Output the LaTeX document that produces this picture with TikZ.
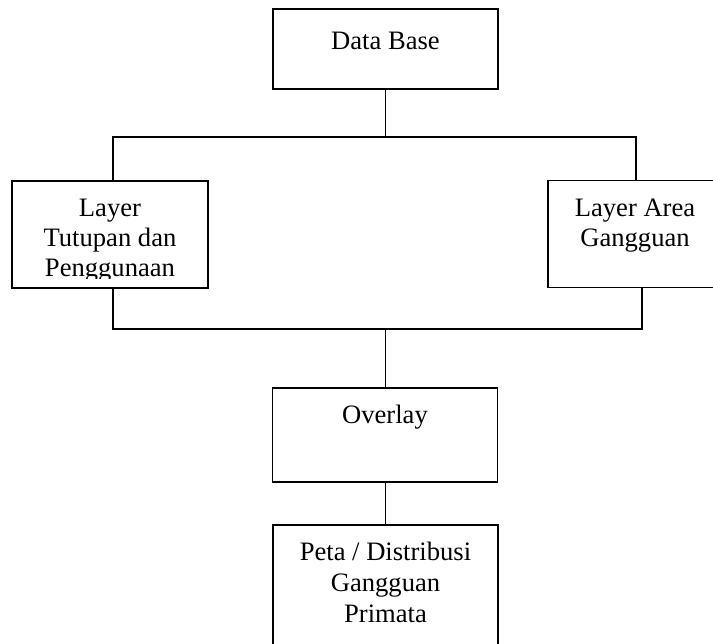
\documentclass[tikz,border=0pt]{standalone}
\usepackage{fontspec}
\setmainfont{Liberation Serif}
\begin{document}
\begin{tikzpicture}[x=1pt,y=-1pt,
  box/.style={draw,line width=1.4pt,rectangle,inner sep=0pt},
  txt/.style={anchor=base,inner sep=0pt,font=\fontsize{26.6}{30}\selectfont},
  conn/.style={line width=1.3pt}]
\useasboundingbox (0,0) rectangle (713,644);
\clip (0,0) rectangle (713,644);
% boxes
\node[box,minimum width=225pt,minimum height=80pt] (db) at (385.5,49) {};
\node[box,minimum width=196pt,minimum height=107pt] (L) at (110,234.5) {};
\node[box,minimum width=174pt,minimum height=106.5pt] (R) at (635,234) {};
\node[box,minimum width=225pt,minimum height=94pt] (ov) at (385,435) {};
\node[box,minimum width=225pt,minimum height=140pt] (pm) at (385.5,595) {};
% texts
\node[txt] (t1) at (385.5,50) {Data Base};
\node[txt] (t2) at (110,217) {Layer};
\node[txt] (t3) at (110,247) {Tutupan dan};
\begin{scope}
\clip (0,0) rectangle (713,279);
\node[txt] (t4) at (110,277) {Penggunaan};
\end{scope}
\node[txt] (t5) at (635,217) {Layer Area};
\node[txt] (t6) at (635,247) {Gangguan};
\node[txt] (t7) at (385,424) {Overlay};
\node[txt] (t8) at (385.5,560) {Peta / Distribusi};
\node[txt] (t9) at (385.5,591) {Gangguan};
\node[txt] (t10) at (385.5,622) {Primata};
% connectors
\coordinate (tl) at (113,137);
\coordinate (tr) at (636,137);
\coordinate (bl) at (113,329);
\coordinate (br) at (642,329);
\coordinate (mid) at (385.5,0);
\draw[conn] (db.south) -- (db.south |- tl);
\draw[conn] (tl |- L.north) -- (tl) -- (tr) -- (tr |- R.north);
\draw[conn] (bl |- L.south) -- (bl) -- (br) -- (br |- R.south);
\draw[conn] (mid |- ov.north) -- (mid |- bl);
\draw[conn] (mid |- ov.south) -- (mid |- pm.north);
\end{tikzpicture}
\end{document}
